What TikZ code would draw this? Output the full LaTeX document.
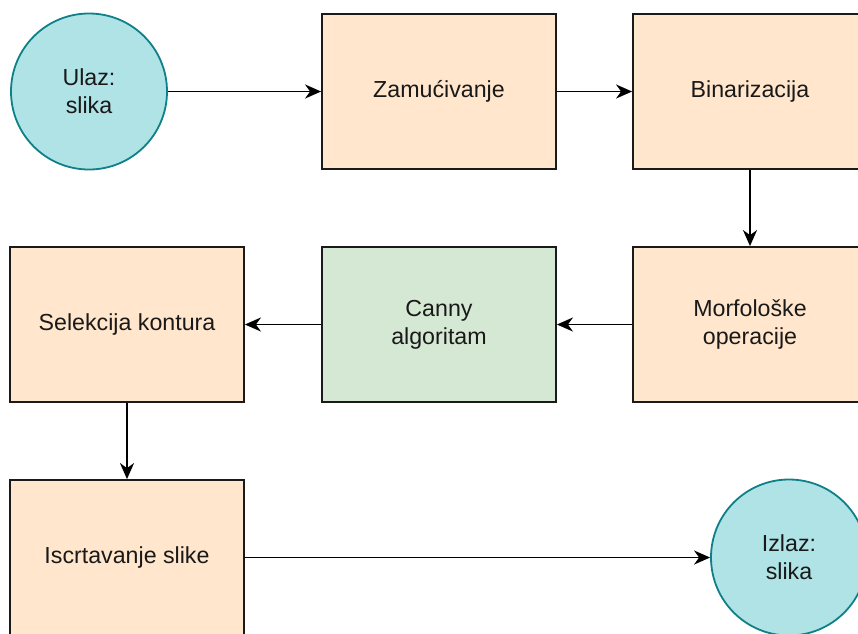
\documentclass[tikz,border=0pt]{standalone}
\usepackage{fontspec}
\setmainfont{Liberation Sans}
\usetikzlibrary{arrows.meta}
\definecolor{orfill}{HTML}{FFE6CC}
\definecolor{grfill}{HTML}{D5E8D4}
\definecolor{cyfill}{HTML}{B0E3E6}
\definecolor{cystroke}{HTML}{0E8088}
\definecolor{bstroke}{HTML}{1A1A1A}
\begin{document}
\begin{tikzpicture}[x=1pt,y=-1pt,
  every node/.style={font=\fontsize{23.2}{28}\selectfont, text=black!90, align=center, inner sep=0pt},
  procbox/.style={draw=bstroke, line width=1.8pt, fill=orfill, minimum width=234pt, minimum height=155pt, rectangle},
  greenbox/.style={procbox, fill=grfill},
  ioc/.style={circle, draw=cystroke, line width=1.8pt, fill=cyfill, minimum size=156pt},
  conn/.style={draw=black, line width=1.9pt, -{Stealth[length=16pt,width=14pt,inset=5pt]}}]
\useasboundingbox (0,0) rectangle (858,633);
\clip (0,0) rectangle (858,633);
\node[ioc] (ulaz) at (89,91.5) {Ulaz:\\slika};
\node[procbox] (zam) at (439,91.5) {Zamućivanje};
\node[procbox] (bin) at (750,91.5) {Binarizacija};
\node[procbox] (morf) at (750,324.5) {Morfološke\\operacije};
\node[greenbox] (canny) at (439,324.5) {Canny\\algoritam};
\node[procbox] (sel) at (127,324.5) {Selekcija kontura};
\node[procbox] (isc) at (127,557.5) {Iscrtavanje slike};
\node[ioc] (izlaz) at (789,557.5) {Izlaz:\\slika};
\draw[conn] (ulaz) -- (zam);
\draw[conn] (zam) -- (bin);
\draw[conn] (bin) -- (morf);
\draw[conn] (morf) -- (canny);
\draw[conn] (canny) -- (sel);
\draw[conn] (sel) -- (isc);
\draw[conn] (isc) -- (izlaz);
\end{tikzpicture}
\end{document}
